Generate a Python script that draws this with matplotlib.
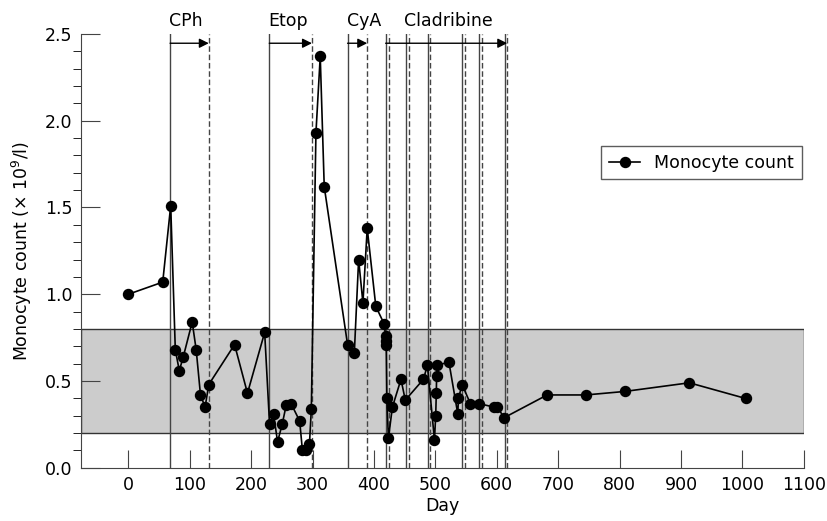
import numpy as np
import matplotlib.pyplot as plt
from matplotlib.patches import Rectangle
from matplotlib.ticker import MultipleLocator

plt.rcParams['font.family'] = ['DejaVu Sans']

day = [0, 56, 69, 76.5, 83, 89.5, 104, 110.5, 117.5, 125,
       131, 173, 194, 222, 230, 236.5, 243, 250.5, 257, 265,
       279, 283.5, 289, 295, 298, 305.5, 312.5, 319, 357, 368,
       375, 382, 389, 403, 416.5, 419, 419.5, 420, 421, 423.5,
       430, 444, 451, 480.5, 487, 498.5, 500.5, 501.5, 502, 503,
       522, 536.5, 537.5, 543.5, 557, 571, 595.5, 600, 612.5, 682,
       745, 808, 913.5, 1005]
monocytes = [1.0, 1.07, 1.51, 0.68, 0.56, 0.64, 0.84, 0.68, 0.42, 0.35,
             0.48, 0.71, 0.43, 0.78, 0.25, 0.31, 0.15, 0.25, 0.36, 0.37,
             0.27, 0.10, 0.10, 0.14, 0.34, 1.93, 2.37, 1.62, 0.71, 0.66,
             1.20, 0.95, 1.38, 0.93, 0.83, 0.76, 0.73, 0.71, 0.40, 0.17,
             0.35, 0.51, 0.39, 0.51, 0.59, 0.16, 0.30, 0.43, 0.53, 0.59,
             0.61, 0.31, 0.40, 0.48, 0.37, 0.37, 0.35, 0.35, 0.29, 0.42,
             0.42, 0.44, 0.49, 0.40]

# treatment start (solid) / end (dashed) days
starts = [68, 229.5, 357, 419, 452, 488, 544, 571, 613]
ends = [131, 299, 389, 424, 457, 491.5, 548, 575.5, 617]

# arrows and labels for each treatment
arrows = [(68, 131), (229.5, 299), (357, 389), (419, 617)]
drug_names = ['CPh', 'Etop', 'CyA', 'Cladribine']
drug_label_x = [67, 228, 356, 449]

normal_range = (0.2, 0.8)

fig = plt.figure(figsize=(8.27, 5.21), dpi=100)
ax = fig.add_axes([0.098, 0.102, 0.874, 0.833])

xmin, xmax = -77, 1100
ax.set_xlim(xmin, xmax)
ax.set_ylim(0, 2.5)

ax.add_patch(Rectangle((xmin, normal_range[0]), xmax - xmin, normal_range[1] - normal_range[0],
                       facecolor='#cccccc', edgecolor='#333333', lw=1.0, zorder=0))

for x in starts:
    ax.plot([x, x], [0, 2.5], color='#444444', lw=1.0, zorder=1)
for x in ends:
    ax.plot([x, x], [0, 2.5], color='#444444', lw=1.0, ls=(0, (4, 2)), zorder=1)

for (x0, x1) in arrows:
    ax.annotate('', xy=(x1, 2.446), xytext=(x0, 2.446),
                arrowprops=dict(arrowstyle='-|>', color='black', lw=1.0,
                                mutation_scale=14, shrinkA=0, shrinkB=0))

for name, x in zip(drug_names, drug_label_x):
    ax.text(x, 2.575, name, ha='left', va='center', fontsize=12.5, clip_on=False)

ax.plot(day, monocytes, color='black', lw=1.2, marker='o', ms=7.2, label='Monocyte count', zorder=3)

ax.spines['top'].set_visible(False)
ax.spines['right'].set_visible(False)
ax.spines['left'].set_color('#444444')
ax.spines['bottom'].set_color('#444444')

ax.xaxis.set_major_locator(MultipleLocator(100))
ax.yaxis.set_major_locator(MultipleLocator(0.5))
ax.yaxis.set_minor_locator(MultipleLocator(0.1))
ax.yaxis.set_major_formatter(plt.FormatStrFormatter('%.1f'))
ax.tick_params(axis='both', direction='in', labelsize=12.5, color='#444444')
ax.tick_params(axis='x', which='major', length=13, pad=6)
ax.tick_params(axis='y', which='major', length=14, pad=6)
ax.tick_params(axis='y', which='minor', length=6)

ax.set_xlabel('Day', fontsize=12.5, labelpad=2)
ax.set_ylabel('Monocyte count (× 10$^9$/l)', fontsize=12.5, labelpad=8)

leg = ax.legend(loc='upper right', bbox_to_anchor=(0.997, 0.742), borderaxespad=0,
                fancybox=False, edgecolor='#333333', fontsize=12.5,
                handlelength=1.8, borderpad=0.45)
leg.get_frame().set_linewidth(1.0)

plt.savefig('out.png')
